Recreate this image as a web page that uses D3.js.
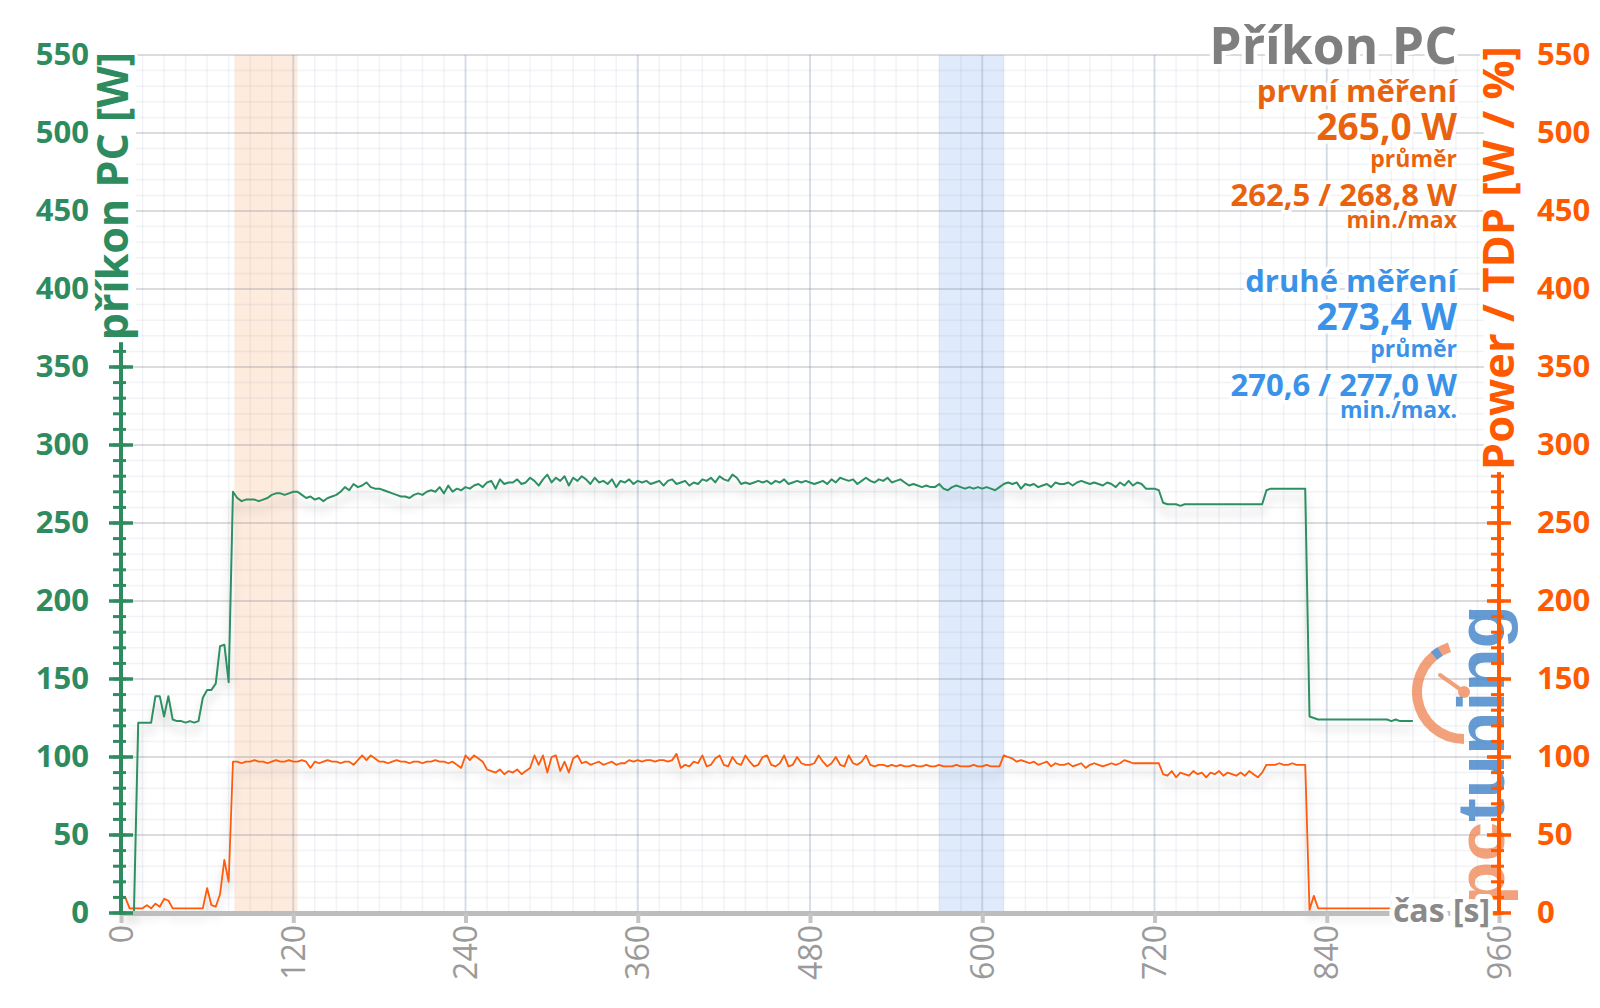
<!DOCTYPE html>
<html>
<head>
<meta charset="utf-8">
<script src="https://cdn.jsdelivr.net/npm/d3@7"></script>
<style>
  html, body { margin: 0; padding: 0; background: #fff; }
  svg { display: block; font-family: 'Open Sans', sans-serif; }
  .halo { paint-order: stroke; stroke: #fff; stroke-linejoin: round; }
</style>
</head>
<body>
<svg id="chart" width="1600" height="1008"></svg>
<script>
// one sample every 3 s, 0 s .. 900 s
const sampleStep = 3;

// příkon PC [W]
const pcPower = [
  0, 0, 0, 0, 122, 122, 122, 122, 139, 139,
  126, 139, 124, 123, 123, 122, 123, 122, 123, 138,
  143, 143, 147, 171, 172, 148, 270, 266, 264, 265,
  265, 265, 264, 265, 266, 268, 269, 269, 268, 269,
  270, 270, 268, 266, 267, 265, 266, 264, 266, 267,
  268, 270, 273, 271, 275, 273, 274, 276, 273, 272,
  272, 271, 270, 269, 268, 267, 267, 266, 268, 269,
  268, 270, 271, 270, 273, 269, 274, 270, 272, 271,
  273, 272, 274, 275, 273, 276, 277, 272, 278, 275,
  276, 276, 278, 275, 276, 279, 277, 274, 278, 281,
  276, 279, 277, 280, 274, 279, 277, 280, 278, 275,
  279, 276, 277, 275, 278, 273, 277, 276, 278, 275,
  277, 276, 277, 275, 276, 277, 274, 277, 278, 275,
  276, 277, 274, 276, 275, 278, 277, 279, 276, 280,
  278, 277, 281, 279, 275, 276, 275, 276, 277, 276,
  277, 275, 277, 276, 278, 275, 276, 277, 276, 277,
  276, 275, 276, 277, 275, 278, 276, 279, 278, 277,
  278, 275, 277, 279, 277, 276, 278, 277, 279, 276,
  277, 278, 276, 274, 275, 274, 273, 274, 273, 273,
  275, 272, 271, 273, 274, 273, 272, 273, 272, 273,
  272, 273, 272, 271, 273, 275, 276, 275, 276, 272,
  275, 274, 275, 273, 274, 275, 273, 276, 275, 275,
  276, 274, 276, 277, 276, 275, 276, 275, 274, 276,
  275, 273, 276, 274, 277, 274, 276, 275, 272, 272,
  272, 271, 263, 262, 262, 262, 261, 262, 262, 262,
  262, 262, 262, 262, 262, 262, 262, 262, 262, 262,
  262, 262, 262, 262, 262, 262, 271, 272, 272, 272,
  272, 272, 272, 272, 272, 272, 126, 125, 124, 124,
  124, 124, 124, 124, 124, 124, 124, 124, 124, 124,
  124, 124, 124, 124, 124, 123, 124, 123, 123, 123,
  123
];

// Power / TDP [W / %]
const powerTdp = [
  10, 10, 3, 3, 3, 3, 5, 3, 6, 4,
  9, 8, 3, 3, 3, 3, 3, 3, 3, 3,
  16, 5, 4, 12, 34, 20, 97, 97, 96, 97,
  97, 98, 97, 97, 96, 97, 98, 97, 97, 98,
  97, 97, 98, 97, 93, 97, 96, 97, 98, 97,
  97, 96, 97, 97, 95, 98, 101, 98, 101, 99,
  97, 97, 96, 97, 98, 97, 97, 96, 97, 97,
  96, 97, 97, 98, 97, 97, 96, 97, 95, 93,
  101, 98, 101, 99, 97, 92, 91, 90, 92, 89,
  91, 90, 92, 89, 91, 93, 101, 95, 101, 90,
  100, 101, 91, 97, 90, 99, 101, 96, 97, 95,
  96, 97, 95, 96, 97, 95, 96, 96, 98, 97,
  98, 97, 98, 98, 97, 98, 98, 97, 98, 102,
  93, 95, 94, 97, 96, 101, 94, 95, 99, 101,
  95, 94, 100, 96, 95, 101, 97, 94, 95, 100,
  101, 95, 94, 96, 101, 94, 95, 100, 96, 95,
  95, 96, 101, 97, 94, 96, 100, 95, 94, 101,
  96, 95, 97, 101, 95, 94, 95, 95, 94, 95,
  94, 95, 94, 94, 95, 94, 94, 95, 94, 94,
  95, 94, 94, 94, 95, 94, 94, 94, 95, 94,
  94, 95, 94, 94, 94, 101, 100, 99, 97, 98,
  97, 96, 97, 95, 96, 97, 94, 96, 95, 95,
  96, 94, 95, 96, 93, 95, 96, 95, 94, 95,
  96, 95, 96, 98, 97, 96, 96, 96, 96, 96,
  96, 96, 89, 88, 91, 87, 90, 89, 88, 91,
  89, 90, 87, 90, 89, 91, 88, 90, 89, 88,
  90, 88, 91, 89, 87, 90, 95, 95, 95, 96,
  95, 95, 96, 95, 95, 95, 2, 11, 3, 3,
  3, 3, 3, 3, 3, 3, 3, 3, 3, 3,
  3, 3, 3, 3, 3, 3, 3, 3, 3, 3,
  3
];

const timeTicks = [0, 120, 240, 360, 480, 600, 720, 840, 960];
const powerTicks = [0, 50, 100, 150, 200, 250, 300, 350, 400, 450, 500, 550];

// measured windows [s]
const firstWindow = [79, 123];
const secondWindow = [570, 615];

const chartTitle = 'Příkon PC';
const firstStats = ['první měření', '265,0 W', 'průměr', '262,5 / 268,8 W', 'min./max'];
const secondStats = ['druhé měření', '273,4 W', 'průměr', '270,6 / 277,0 W', 'min./max.'];

const green = '#2e8b60';
const orange = '#ff5a0a';
const orangeText = '#e9630f';
const blueText = '#3a93e8';
const gray = '#8a8a8a';

const svg = d3.select('#chart');
const plotLeft = 121, plotRight = 1499, plotTop = 55, plotBottom = 913;

const x = d3.scaleLinear().domain([0, 960]).range([plotLeft, plotRight]);
const y = d3.scaleLinear().domain([0, 550]).range([plotBottom, plotTop]);

const defs = svg.append('defs');
const shadow = defs.append('filter').attr('id', 'shadow')
  .attr('x', '-5%').attr('y', '-20%').attr('width', '110%').attr('height', '150%');
shadow.append('feDropShadow').attr('dx', 0).attr('dy', 9).attr('stdDeviation', 5)
  .attr('flood-color', '#000').attr('flood-opacity', 0.22);

// highlighted windows
[[firstWindow, '#fde9da'], [secondWindow, '#dbe9fb']].forEach(([w, c]) => {
  svg.append('rect')
    .attr('x', x(w[0])).attr('width', x(w[1]) - x(w[0]))
    .attr('y', plotTop).attr('height', plotBottom - plotTop)
    .attr('fill', c).attr('opacity', 0.9);
});

// grid
const grid = svg.append('g');
grid.selectAll('.vmin').data(d3.range(0, 961, 15)).join('line')
  .attr('x1', d => x(d)).attr('x2', d => x(d)).attr('y1', plotTop).attr('y2', plotBottom)
  .attr('stroke', 'rgba(120,135,165,0.10)').attr('stroke-width', 1.5);
grid.selectAll('.hmin').data(d3.range(0, 551, 10)).join('line')
  .attr('x1', plotLeft).attr('x2', plotRight).attr('y1', d => y(d)).attr('y2', d => y(d))
  .attr('stroke', 'rgba(120,135,165,0.10)').attr('stroke-width', 1.5);
grid.selectAll('.vmaj').data(timeTicks).join('line')
  .attr('x1', d => x(d)).attr('x2', d => x(d)).attr('y1', plotTop).attr('y2', plotBottom)
  .attr('stroke', 'rgba(140,160,195,0.28)').attr('stroke-width', 2);
grid.selectAll('.hmaj').data(powerTicks).join('line')
  .attr('x1', plotLeft).attr('x2', plotRight).attr('y1', d => y(d)).attr('y2', d => y(d))
  .attr('stroke', 'rgba(120,120,130,0.2)').attr('stroke-width', 2);

// watermark logo
const logo = svg.append('g').attr('opacity', 0.8);
const gx = 1464, gy = 692;
logo.append('path')
  .attr('transform', `translate(${gx},${gy})`)
  .attr('d', d3.arc().innerRadius(42).outerRadius(52).startAngle(Math.PI).endAngle(Math.PI * 1.9)())
  .attr('fill', '#f08a5a');
logo.append('path')
  .attr('transform', `translate(${gx},${gy})`)
  .attr('d', d3.arc().innerRadius(42).outerRadius(52).startAngle(Math.PI * 1.78).endAngle(Math.PI * 1.83)())
  .attr('fill', '#3f82c8');
logo.append('line').attr('x1', gx).attr('y1', gy).attr('x2', gx - 24).attr('y2', gy - 17)
  .attr('stroke', '#f08a5a').attr('stroke-width', 4).attr('stroke-linecap', 'round');
logo.append('circle').attr('cx', gx).attr('cy', gy).attr('r', 6).attr('fill', '#f08a5a');
const logoText = logo.append('text')
  .attr('transform', 'translate(1504,905) rotate(-90)')
  .attr('font-family', 'Liberation Sans, sans-serif').attr('font-weight', 700).attr('font-size', 66)
  .attr('textLength', 300).attr('lengthAdjust', 'spacingAndGlyphs');
logoText.append('tspan').attr('fill', '#f08a5a').text('pc');
logoText.append('tspan').attr('fill', '#3f82c8').text('tuning');

// series
const line = d3.line().x((d, i) => x(i * sampleStep)).y(d => y(d));
svg.append('path').datum(powerTdp).attr('d', line)
  .attr('fill', 'none').attr('stroke', orange).attr('stroke-width', 1.8)
  .attr('stroke-linejoin', 'round').attr('filter', 'url(#shadow)');
svg.append('path').datum(pcPower).attr('d', line)
  .attr('fill', 'none').attr('stroke', '#2f9062').attr('stroke-width', 2)
  .attr('stroke-linejoin', 'round').attr('filter', 'url(#shadow)');

// bottom axis
const xAxis = d3.axisBottom(x).tickValues(timeTicks).tickSize(10).tickSizeOuter(0);
svg.append('g').attr('transform', `translate(0,${plotBottom})`).call(xAxis)
  .call(g => g.select('.domain').attr('stroke', '#bdbdbd').attr('stroke-width', 5))
  .call(g => g.selectAll('.tick line').attr('stroke', '#c4c4c4').attr('stroke-width', 4))
  .call(g => g.selectAll('.tick text')
    .attr('transform', 'rotate(-90)').attr('x', -12).attr('y', 0).attr('dy', '0.35em')
    .attr('text-anchor', 'end').attr('fill', '#9a9a9a').attr('font-size', 32)
    .attr('font-family', 'Open Sans, sans-serif'));

// left and right axes
function sideAxis(xPos, color, axisFn, pad) {
  const g = svg.append('g');
  g.append('line').attr('x1', xPos).attr('x2', xPos).attr('y1', plotTop - 2).attr('y2', plotBottom + 2)
    .attr('stroke', color).attr('stroke-width', 4);
  g.selectAll('.minor').data(d3.range(0, 551, 10)).join('line')
    .attr('x1', xPos - 8).attr('x2', xPos + 5).attr('y1', d => y(d)).attr('y2', d => y(d))
    .attr('stroke', color).attr('stroke-width', 3);
  g.selectAll('.major').data(powerTicks).join('line')
    .attr('x1', xPos - 12).attr('x2', xPos + 12).attr('y1', d => y(d)).attr('y2', d => y(d))
    .attr('stroke', color).attr('stroke-width', 3.5);
  const a = axisFn(y).tickValues(powerTicks).tickSize(0).tickPadding(pad);
  svg.append('g').attr('transform', `translate(${xPos},0)`).call(a)
    .call(s => s.select('.domain').remove())
    .call(s => s.selectAll('text').attr('fill', color).attr('font-size', 31)
      .attr('font-weight', 700).attr('font-family', 'Open Sans, sans-serif'));
}
sideAxis(plotLeft, green, d3.axisLeft, 32);
sideAxis(plotRight, '#ff5a00', d3.axisRight, 38);

// rotated axis titles on a white strip that hides the axis behind them
function axisTitle(tx, ty, label, size, color) {
  const g = svg.append('g').attr('transform', `translate(${tx},${ty}) rotate(-90)`);
  const bg = g.append('rect').attr('fill', '#fff');
  const t = g.append('text').attr('class', 'halo')
    .attr('text-anchor', 'end').attr('font-size', size).attr('font-weight', 700)
    .attr('fill', color).attr('stroke-width', 6)
    .text(label);
  const b = t.node().getBBox();
  bg.attr('x', b.x - 2).attr('width', b.width + 4).attr('y', -30).attr('height', 38);
}
axisTitle(128, 52, 'příkon PC [W]', 43, green);
axisTitle(1514, 46, 'Power / TDP [W / %]', 43.5, '#ff5a00');

svg.append('text').attr('class', 'halo')
  .attr('x', 1490).attr('y', 922).attr('text-anchor', 'end')
  .attr('font-size', 32).attr('font-weight', 700).attr('fill', gray).attr('stroke-width', 10)
  .text('čas [s]');

// title and statistics
const textRight = 1457;
const statStyle = [
  { size: 31, dy: 0 },
  { size: 37, dy: 38 },
  { size: 23, dy: 65 },
  { size: 31, dy: 104 },
  { size: 23, dy: 126 }
];
svg.append('text').attr('class', 'halo')
  .attr('x', textRight).attr('y', 64).attr('text-anchor', 'end')
  .attr('font-size', 51.5).attr('font-weight', 700).attr('fill', '#7f7f7f').attr('stroke-width', 8)
  .text(chartTitle);
[[firstStats, orangeText, 102], [secondStats, blueText, 292]].forEach(([lines, color, y0]) => {
  lines.forEach((t, i) => {
    svg.append('text').attr('class', 'halo')
      .attr('x', textRight).attr('y', y0 + statStyle[i].dy).attr('text-anchor', 'end')
      .attr('font-size', statStyle[i].size).attr('font-weight', 700)
      .attr('fill', color).attr('stroke-width', 7)
      .text(t);
  });
});
</script>
</body>
</html>
